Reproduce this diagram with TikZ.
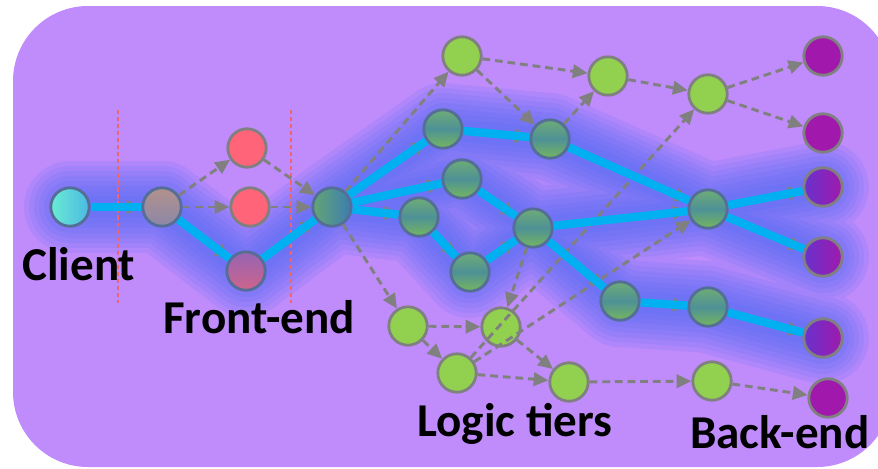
\documentclass[tikz,border=0pt]{standalone}
\usepackage{fontspec}
\setmainfont{Carlito}
\usetikzlibrary{arrows.meta}

\definecolor{bgpurple}{RGB}{192,140,252}
\definecolor{glowblue}{RGB}{75,105,245}
\definecolor{pathblue}{RGB}{0,176,240}
\definecolor{edgegray}{RGB}{128,128,128}
\definecolor{rimblue}{RGB}{85,110,150}
\definecolor{tiergreen}{RGB}{146,208,80}
\definecolor{hotred}{RGB}{255,100,120}
\definecolor{backpurple}{RGB}{160,25,172}
\definecolor{sepred}{RGB}{240,100,110}

\pgfdeclarelayer{bg}
\pgfdeclarelayer{glow}
\pgfsetlayers{bg,glow,main}

\tikzset{
  nd/.style={circle, line width=2pt, minimum size=0.96cm, inner sep=0pt},
  tier/.style={nd, draw=edgegray, fill=tiergreen},
  hotnd/.style={nd, draw=rimblue, top color={rgb,255:red,110;green,172;blue,118}, bottom color={rgb,255:red,118;green,182;blue,95}, middle color={rgb,255:red,78;green,145;blue,150}},
  back/.style={nd, draw=edgegray, fill=backpurple},
  hotback/.style={nd, draw=edgegray, left color={rgb,255:red,105;green,50;blue,205}, right color=backpurple},
  flow/.style={draw=edgegray, line width=2.1pt, dash pattern=on 5.5pt off 3.5pt, -{Triangle[length=10.5pt,width=9.5pt]}},
  hot/.style={draw=pathblue, line width=5.9pt},
  sep/.style={draw=sepred, line width=0.8pt, dash pattern=on 3pt off 2pt},
  lbl/.style={font=\bfseries\fontsize{33.5}{36}\selectfont, anchor=base west, inner sep=0pt},
}

\begin{document}
\begin{tikzpicture}[x=0.025cm, y=-0.025cm, line join=round]
    \useasboundingbox (0,0) rectangle (878,468);
    \begin{pgfonlayer}{bg}
        \fill[bgpurple, rounded corners=1.875cm] (13,6) rectangle (892,467);
    \end{pgfonlayer}

    % Tier separators
    \draw[sep] (118,110) -- (118,303);
    \draw[sep] (291,110) -- (291,303);

    % Client and front-end
    \node[nd, draw=rimblue, left color={rgb,255:red,105;green,235;blue,212}, right color={rgb,255:red,75;green,185;blue,225}] (cl) at (70,207) {};
    \node[nd, draw=rimblue, top color={rgb,255:red,178;green,145;blue,140}, bottom color={rgb,255:red,140;green,135;blue,168}] (fe) at (162,207) {};
    \node[nd, draw=edgegray, fill=hotred] (fe1) at (247,148) {};
    \node[nd, draw=edgegray, fill=hotred] (fe2) at (250,207) {};
    \node[nd, draw=rimblue, top color={rgb,255:red,150;green,100;blue,178}, bottom color={rgb,255:red,205;green,100;blue,140}] (fe3) at (246,271) {};

    % Logic tiers
    \node[nd, draw=rimblue, left color={rgb,255:red,100;green,165;blue,115}, right color={rgb,255:red,60;green,125;blue,178}] (lg0) at (332,207) {};
    \node[hotnd] (lg1) at (443,129) {};
    \node[hotnd] (lg2) at (462,179) {};
    \node[hotnd] (lg3) at (419,217) {};
    \node[hotnd] (lg4) at (470,272) {};
    \node[hotnd] (lg5) at (533,228) {};
    \node[hotnd] (lg6) at (550,139) {};
    \node[hotnd] (lg7) at (708,209) {};
    \node[hotnd] (lg8) at (620,301) {};
    \node[hotnd] (lg9) at (708,307) {};
    \node[tier] (gr1) at (462,56) {};
    \node[tier] (gr2) at (608,76) {};
    \node[tier] (gr3) at (708,94) {};
    \node[tier] (gr4) at (408,326) {};
    \node[tier] (gr5) at (501,327) {};
    \node[tier] (gr6) at (457,373) {};
    \node[tier] (gr7) at (569,382) {};
    \node[tier] (gr8) at (712,381) {};

    % Back-end
    \node[back] (be1) at (823,56) {};
    \node[back] (be2) at (823,133) {};
    \node[hotback] (be3) at (823,187) {};
    \node[hotback] (be4) at (823,257) {};
    \node[hotback] (be5) at (823,338) {};
    \node[back] (be6) at (828,398) {};

    % Soft glow under the hot path
    \begin{pgfonlayer}{glow}
        \foreach \w in {92,82,72,62,52,42,32,22} {
            \begin{scope}[transparency group, opacity=0.13]
                \foreach \a/\b in {cl/fe, fe/fe3, fe3/lg0, lg0/lg1, lg0/lg2, lg0/lg3, lg1/lg6, lg6/lg7, lg7/be3, lg7/be4, lg2/lg5, lg3/lg4, lg4/lg5, lg5/lg7, lg5/lg8, lg8/lg9, lg9/be5}
                    \draw[glowblue, line width=\w*0.711pt, line cap=round] (\a.center) -- (\b.center);
            \end{scope}
        }
    \end{pgfonlayer}

    % All calls
    \foreach \a/\b in {cl/fe, fe/fe1, fe/fe2, fe/fe3, fe1/lg0, fe2/lg0, fe3/lg0, lg0/gr1, lg0/lg1, lg0/lg2, lg0/lg3, lg0/gr4, gr1/gr2, gr1/lg6, lg1/lg6, lg6/gr2, gr2/gr3, gr3/be1, gr3/be2, lg6/lg7, lg7/be3, lg7/be4, lg2/lg5, lg3/lg4, lg4/lg5, lg5/lg7, lg5/lg8, lg8/lg9, lg9/be5, lg5/gr5, gr4/gr5, gr4/gr6, gr5/gr7, gr6/gr7, gr7/gr8, gr8/be6, gr6/gr3, gr6/lg7}
        \draw[flow] (\a) -- (\b);

    % Hot path
    \foreach \a/\b in {cl/fe, fe/fe3, fe3/lg0, lg0/lg1, lg0/lg2, lg0/lg3, lg1/lg6, lg6/lg7, lg7/be3, lg7/be4, lg2/lg5, lg3/lg4, lg4/lg5, lg5/lg7, lg5/lg8, lg8/lg9, lg9/be5}
        \draw[hot] (\a) -- (\b);

    % Labels
    \node[lbl] (lcl) at (22,280) {Client};
    \node[lbl] (lfe) at (163,333) {Front-end};
    \node[lbl] (llg) at (417,436) {Logic tiers};
    \node[lbl] (lbe) at (690,448) {Back-end};
\end{tikzpicture}
\end{document}
